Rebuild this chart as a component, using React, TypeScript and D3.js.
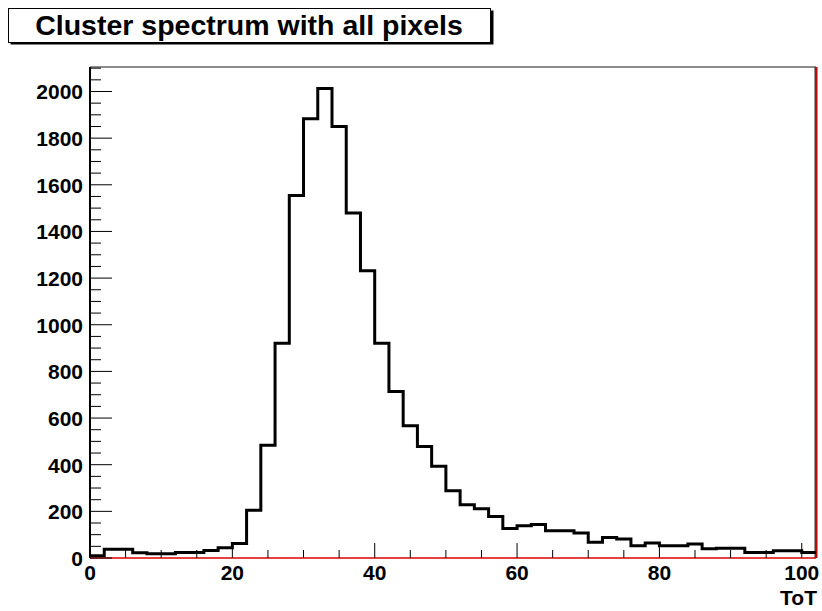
import React from 'react';
import * as d3 from 'd3';

// ToT histogram, 51 bins of width 2 from 0 to 102
const xRange: [number, number] = [0, 102];
const binWidth = 2;
const counts = [
  10, 37, 37, 22, 18, 18, 24, 24, 32, 44,
  62, 205, 483, 921, 1554, 1883, 2013, 1850, 1479, 1231,
  921, 714, 567, 478, 393, 288, 228, 211, 178, 126,
  138, 144, 117, 117, 107, 67, 88, 81, 53, 64,
  52, 52, 60, 40, 42, 42, 24, 24, 31, 31,
  24,
];
const yMax = 2105;
const xTickLabels = [0, 20, 40, 60, 80, 100];
const yTickLabels = [0, 200, 400, 600, 800, 1000, 1200, 1400, 1600, 1800, 2000];
const title = 'Cluster spectrum with all pixels';
const xTitle = 'ToT';

const W = 822;
const H = 611;
const plot = { left: 90, right: 816, top: 67, bottom: 558 };
const font = '"Liberation Sans", Arial, Helvetica, sans-serif';

export default function App() {
  const x = d3.scaleLinear().domain(xRange).range([plot.left, plot.right]);
  const y = d3.scaleLinear().domain([0, yMax]).range([plot.bottom, plot.top]);

  // step outline like ROOT's default histogram drawing
  let d = '';
  counts.forEach((c, i) => {
    const x0 = x(xRange[0] + i * binWidth);
    const x1 = x(xRange[0] + (i + 1) * binWidth);
    d += i === 0 ? `M${x0},${y(c)}` : `V${y(c)}`;
    d += `H${x1}`;
  });

  const yMinor = d3.range(0, yMax, 50).filter(v => v % 200 !== 0);
  const xMinor = d3.range(0, xRange[1], 5).filter(v => v % 20 !== 0);

  return (
    <svg width={W} height={H} style={{ position: 'absolute', left: 0, top: 0, background: '#fff' }}>
      {/* title box */}
      <rect x={10.5} y={10.5} width={483} height={34} fill="#000" />
      <rect x={8.5} y={8.5} width={482} height={34} fill="#fff" stroke="#000" strokeWidth={1} />
      <text x={249} y={35} textAnchor="middle" fontFamily={font} fontWeight="bold" fontSize={28.5} fill="#000">
        {title}
      </text>

      {/* frame */}
      <line x1={plot.left} x2={plot.right} y1={plot.top} y2={plot.top} stroke="#666" strokeWidth={1.5} />
      <line x1={plot.right} x2={plot.right} y1={plot.top} y2={plot.bottom} stroke="#333" strokeWidth={3} />
      <line x1={plot.right} x2={plot.right} y1={plot.top} y2={plot.bottom} stroke="#e00000" strokeWidth={1.5} />

      {/* histogram */}
      <path d={d} fill="none" stroke="#000" strokeWidth={3} strokeLinejoin="miter" />

      {/* x axis */}
      <line x1={plot.left} x2={plot.right} y1={plot.bottom} y2={plot.bottom} stroke="#e00000" strokeWidth={1.5} />
      {xMinor.map(v => (
        <line key={'xm' + v} x1={x(v)} x2={x(v)} y1={plot.bottom} y2={plot.bottom - 8} stroke="#000" strokeWidth={1} />
      ))}
      {xTickLabels.map(v => (
        <g key={'xt' + v}>
          <line x1={x(v)} x2={x(v)} y1={plot.bottom} y2={plot.bottom - 15} stroke="#000" strokeWidth={1} />
          <text x={x(v)} y={580} textAnchor="middle" fontFamily={font} fontWeight="bold" fontSize={21} fill="#000">
            {v}
          </text>
        </g>
      ))}
      <text x={817} y={605} textAnchor="end" fontFamily={font} fontWeight="bold" fontSize={21} fill="#000">
        {xTitle}
      </text>

      {/* y axis */}
      <line x1={plot.left} x2={plot.left} y1={plot.top} y2={plot.bottom} stroke="#000" strokeWidth={2} />
      {yMinor.map(v => (
        <line key={'ym' + v} x1={plot.left} x2={plot.left + 11} y1={y(v)} y2={y(v)} stroke="#000" strokeWidth={1} />
      ))}
      {yTickLabels.map(v => (
        <g key={'yt' + v}>
          <line x1={plot.left} x2={plot.left + 22} y1={y(v)} y2={y(v)} stroke="#000" strokeWidth={1} />
          <text x={83} y={y(v)} dy="0.38em" textAnchor="end" fontFamily={font} fontWeight="bold" fontSize={21} fill="#000">
            {v}
          </text>
        </g>
      ))}
    </svg>
  );
}
